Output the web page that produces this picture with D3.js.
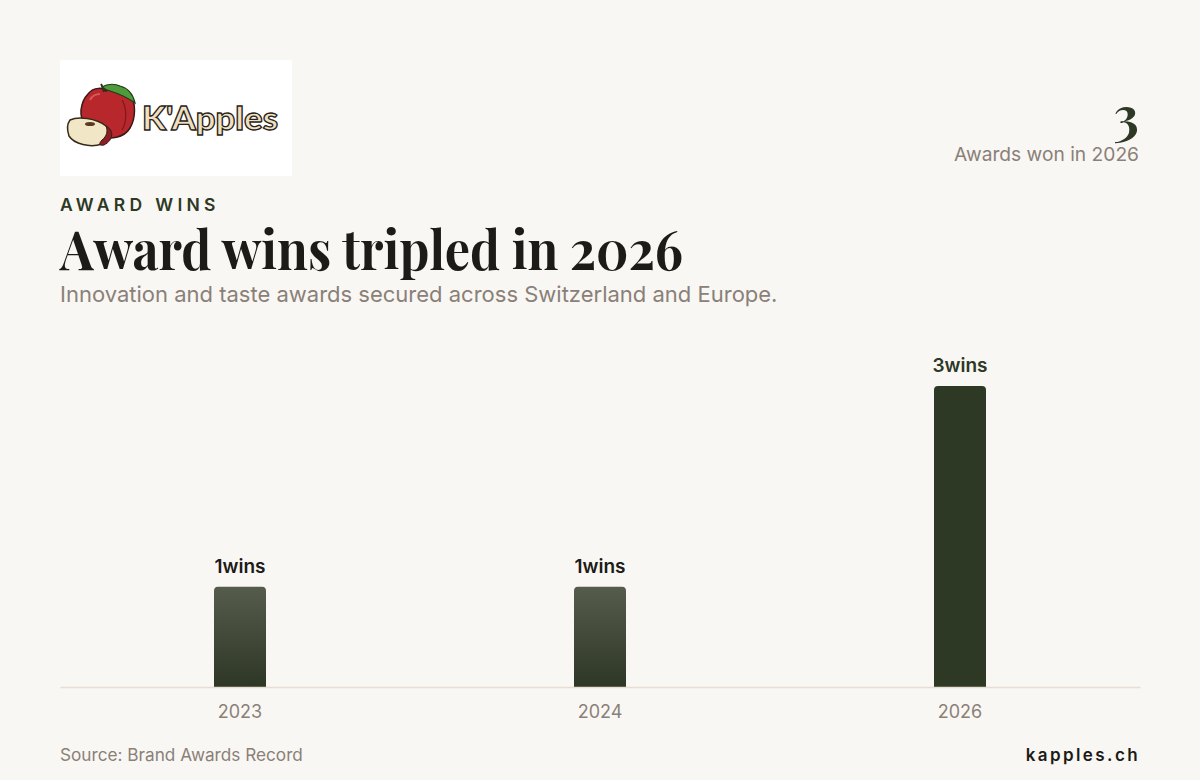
<!DOCTYPE html>
<html lang="en">
<head>
<meta charset="utf-8">
<title>Award wins</title>
<script src="https://cdn.jsdelivr.net/npm/d3@7"></script>
<style>
  html, body { margin: 0; padding: 0; background: #f9f7f3; }
  svg { display: block; }
</style>
</head>
<body>
<script>
// data
var years = ["2023", "2024", "2026"];
var wins = [1, 1, 3];
var valueSuffix = "wins";

var w = 1200, h = 780;
var sans = "Inter, 'Noto Sans', sans-serif";
var serif = "'Playfair Display', 'Liberation Serif', 'DejaVu Serif', serif";
var dark = "#2d3825", muted = "#8a8078", ink = "#1c1b17";

var svg = d3.select("body").append("svg").attr("width", w).attr("height", h);
svg.append("rect").attr("width", w).attr("height", h).attr("fill", "#f9f7f3");

var defs = svg.append("defs");
var grad = defs.append("linearGradient").attr("id", "barGrad")
  .attr("x1", 0).attr("y1", 0).attr("x2", 0).attr("y2", 1);
grad.append("stop").attr("offset", "0%").attr("stop-color", "#555c4b");
grad.append("stop").attr("offset", "100%").attr("stop-color", "#2e3626");

// logo
var logo = svg.append("g").attr("transform", "translate(60,60)");
logo.append("rect").attr("width", 232).attr("height", 116).attr("fill", "#ffffff");
// apple body
logo.append("path")
  .attr("d", "M28,34 C34,26 44,28 46,31 C52,27 64,26 70,34 C76,42 76,58 70,68 C64,78 50,80 40,76 C28,72 20,62 21,50 C22,42 24,38 28,34 Z")
  .attr("fill", "#b8272c").attr("stroke", "#3a1a18").attr("stroke-width", 1.5);
logo.append("path").attr("d", "M62,40 C67,48 67,62 62,70").attr("fill", "none")
  .attr("stroke", "#7a1a1c").attr("stroke-width", 1.2);
logo.append("path").attr("d", "M30,40 C32,36 36,34 40,34").attr("fill", "none")
  .attr("stroke", "#d8585a").attr("stroke-width", 2);
// stem and leaf
logo.append("path").attr("d", "M44,32 C43,29 43,27 41,24").attr("fill", "none")
  .attr("stroke", "#3a2a1a").attr("stroke-width", 2);
logo.append("path").attr("d", "M42,27 C48,23 56,24 60,26 C68,28 73,34 75,43 C68,38 60,34 50,31 C46,30 44,29 42,27 Z")
  .attr("fill", "#4f9a3a").attr("stroke", "#1f3a18").attr("stroke-width", 1.2);
// slice
logo.append("path")
  .attr("d", "M10,60 C18,56 36,58 46,66 C52,72 50,80 42,84 C30,88 14,84 9,76 C7,70 7,64 10,60 Z")
  .attr("fill", "#f1e6c6").attr("stroke", "#3a2a1a").attr("stroke-width", 1.5);
logo.append("path").attr("d", "M46,66 C54,70 54,80 44,85 C40,86 38,84 42,80 C47,76 48,71 46,66 Z")
  .attr("fill", "#8a1e22").attr("stroke", "#3a1a18").attr("stroke-width", 1);
logo.append("ellipse").attr("cx", 30).attr("cy", 64).attr("rx", 5).attr("ry", 2)
  .attr("fill", "#5a3a20");
logo.append("text").attr("x", 82).attr("y", 70)
  .attr("font-family", "'Comic Sans MS', Lato, sans-serif").attr("font-weight", 900)
  .attr("font-size", 33).attr("textLength", 136).attr("lengthAdjust", "spacingAndGlyphs")
  .attr("fill", "#eee0c0").attr("stroke", "#2a2218").attr("stroke-width", 1.3)
  .text("K'Apples");

// header text
svg.append("text").attr("x", 60).attr("y", 211)
  .attr("font-family", sans).attr("font-weight", 600).attr("font-size", 17.5)
  .attr("letter-spacing", 4.3).attr("fill", dark).text("AWARD WINS");
svg.append("text").attr("x", 60).attr("y", 270)
  .attr("font-family", serif).attr("font-weight", 700).attr("font-size", 55)
  .attr("textLength", 623).attr("lengthAdjust", "spacingAndGlyphs")
  .attr("fill", ink).text("Award wins tripled in 2026");
svg.append("text").attr("x", 60).attr("y", 302)
  .attr("font-family", sans).attr("font-size", 22).attr("fill", muted)
  .text("Innovation and taste awards secured across Switzerland and Europe.");

// kpi
svg.append("text").attr("x", 1139).attr("y", 135).attr("text-anchor", "end")
  .attr("font-family", serif).attr("font-weight", 700).attr("font-size", 52)
  .attr("fill", dark).text(wins[wins.length - 1]);
svg.append("text").attr("x", 1139).attr("y", 161).attr("text-anchor", "end")
  .attr("font-family", sans).attr("font-size", 19.2).attr("fill", muted)
  .text("Awards won in " + years[years.length - 1]);

// chart
var x = d3.scaleBand().domain(years).range([60, 1140]);
var y = d3.scaleLinear().domain([0, 3]).range([687, 386]);
var barW = 52, r = 4;
var maxV = d3.max(wins);

function barPath(d, i) {
  var cx = x(years[i]) + x.bandwidth() / 2;
  var x0 = cx - barW / 2, x1 = cx + barW / 2, y0 = y(0), y1 = y(d);
  return "M" + x0 + "," + y0 + "V" + (y1 + r) + "Q" + x0 + "," + y1 + " " + (x0 + r) + "," + y1 +
    "H" + (x1 - r) + "Q" + x1 + "," + y1 + " " + x1 + "," + (y1 + r) + "V" + y0 + "Z";
}

svg.selectAll("path.bar").data(wins).enter().append("path")
  .attr("class", "bar")
  .attr("d", barPath)
  .attr("fill", function(d) { return d === maxV ? dark : "url(#barGrad)"; });

svg.selectAll("text.val").data(wins).enter().append("text")
  .attr("class", "val")
  .attr("x", function(d, i) { return x(years[i]) + x.bandwidth() / 2; })
  .attr("y", function(d) { return y(d) - 14; })
  .attr("text-anchor", "middle")
  .attr("font-family", sans).attr("font-weight", 600).attr("font-size", 19)
  .attr("fill", function(d) { return d === maxV ? dark : ink; })
  .text(function(d) { return d + valueSuffix; });

var axis = svg.append("g").attr("transform", "translate(0,687)")
  .call(d3.axisBottom(x).tickSize(0).tickPadding(18));
axis.select(".domain").attr("stroke", "#e8dfd2").attr("stroke-width", 1.5);
axis.selectAll("text").attr("font-family", sans).attr("font-size", 18).attr("fill", muted);

// footer
svg.append("text").attr("x", 60).attr("y", 761)
  .attr("font-family", sans).attr("font-size", 17.2).attr("fill", muted)
  .text("Source: Brand Awards Record");
svg.append("text").attr("x", 1140).attr("y", 761).attr("text-anchor", "end")
  .attr("font-family", sans).attr("font-weight", 600).attr("font-size", 17)
  .attr("letter-spacing", 2.4).attr("fill", ink).text("kapples.ch");
</script>
</body>
</html>
